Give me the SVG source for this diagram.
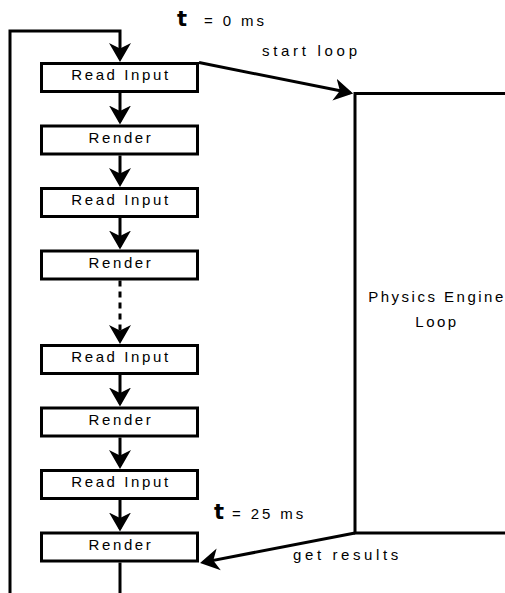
<svg xmlns="http://www.w3.org/2000/svg" width="505" height="593" viewBox="0 0 505 593">
<style>
.box{fill:#fff;stroke:#000;stroke-width:3}
.ln{fill:none;stroke:#000;stroke-width:3}
.lbl{font-family:"Liberation Sans",Arial,sans-serif;font-size:15px;fill:#000}
.bl{letter-spacing:2.6px;text-anchor:middle}
.tb{font-family:"DejaVu Sans","Liberation Sans",sans-serif;font-weight:bold;font-size:21px;fill:#000}
</style>
<defs>
<marker id="ah" markerUnits="userSpaceOnUse" markerWidth="22" markerHeight="24" viewBox="0 0 22 24" refX="16" refY="12" orient="auto">
<path d="M19,12 L0,1 L5.5,12 L0,23 Z" fill="#000"/>
</marker>
</defs>
<rect width="505" height="593" fill="#fff"/>
<g id="connectors">
<polyline class="ln" points="10,593 10,31 120,31 120,59" marker-end="url(#ah)"/>
<line class="ln" x1="120" y1="93" x2="120" y2="121.5" marker-end="url(#ah)"/>
<line class="ln" x1="120" y1="155.5" x2="120" y2="184" marker-end="url(#ah)"/>
<line class="ln" x1="120" y1="218" x2="120" y2="246.5" marker-end="url(#ah)"/>
<line class="ln" x1="120" y1="280.5" x2="120" y2="341" stroke-dasharray="6,5" marker-end="url(#ah)"/>
<line class="ln" x1="120" y1="375" x2="120" y2="403.5" marker-end="url(#ah)"/>
<line class="ln" x1="120" y1="437.5" x2="120" y2="466" marker-end="url(#ah)"/>
<line class="ln" x1="120" y1="500" x2="120" y2="528.5" marker-end="url(#ah)"/>
<line class="ln" x1="120" y1="562.5" x2="120" y2="593"/>
<line class="ln" x1="199" y1="62.5" x2="350.2" y2="92.8" marker-end="url(#ah)"/>
<line class="ln" x1="355" y1="533" x2="203" y2="562.4" marker-end="url(#ah)"/>
</g>
<g id="physics">
<path class="ln" d="M510,93.5 H355 V533 H510"/>
<text class="lbl" x="437" y="302" text-anchor="middle" letter-spacing="2.5px">Physics Engine</text>
<text class="lbl" x="437" y="327" text-anchor="middle" letter-spacing="2.5px">Loop</text>
</g>
<g id="n1"><rect class="box" x="41.5" y="63.5" width="156" height="28"/><text class="lbl bl" x="121" y="80">Read Input</text></g>
<g id="n2"><rect class="box" x="41.5" y="126" width="156" height="28"/><text class="lbl bl" x="121" y="142.5">Render</text></g>
<g id="n3"><rect class="box" x="41.5" y="188.5" width="156" height="28"/><text class="lbl bl" x="121" y="205">Read Input</text></g>
<g id="n4"><rect class="box" x="41.5" y="251" width="156" height="28"/><text class="lbl bl" x="121" y="267.5">Render</text></g>
<g id="n5"><rect class="box" x="41.5" y="345.5" width="156" height="28"/><text class="lbl bl" x="121" y="362">Read Input</text></g>
<g id="n6"><rect class="box" x="41.5" y="408" width="156" height="28"/><text class="lbl bl" x="121" y="424.5">Render</text></g>
<g id="n7"><rect class="box" x="41.5" y="470.5" width="156" height="28"/><text class="lbl bl" x="121" y="487">Read Input</text></g>
<g id="n8"><rect class="box" x="41.5" y="533" width="156" height="28"/><text class="lbl bl" x="121" y="549.5">Render</text></g>
<g id="labels">
<text x="177" y="26"><tspan class="tb">t</tspan><tspan class="lbl" x="204" letter-spacing="2.9px">= 0 ms</tspan></text>
<text class="lbl" x="262" y="56" letter-spacing="3.7px">start loop</text>
<text x="214" y="519"><tspan class="tb">t</tspan><tspan class="lbl" x="232" letter-spacing="2.9px">= 25 ms</tspan></text>
<text class="lbl" x="293" y="560" letter-spacing="3.6px">get results</text>
</g>
</svg>
